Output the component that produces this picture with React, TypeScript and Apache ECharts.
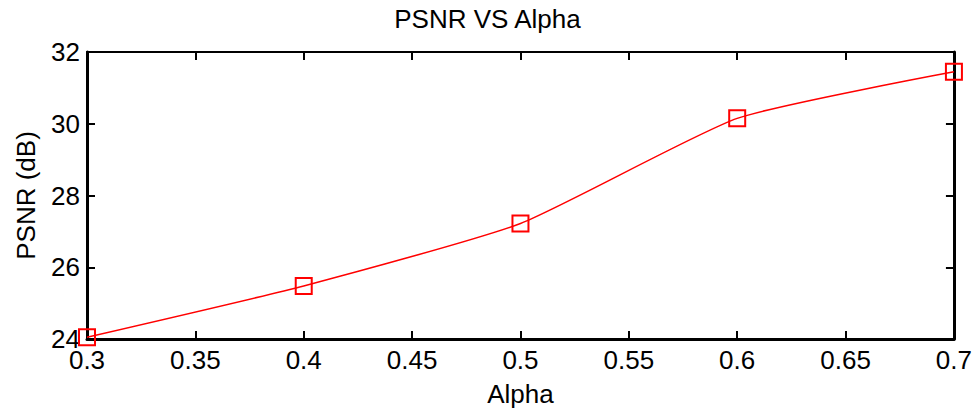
import React, { useEffect, useRef } from "react";
import * as echarts from "echarts";

const alphaValues = [0.3, 0.4, 0.5, 0.6, 0.7];
const psnrValues = [24.05, 25.48, 27.22, 30.15, 31.45];
const titleText = "PSNR VS Alpha";
const xName = "Alpha";
const yName = "PSNR (dB)";

export default function App() {
  const ref = useRef<HTMLDivElement>(null);
  useEffect(() => {
    if (!ref.current) return;
    const chart = echarts.init(ref.current, null, { renderer: "svg" });
    const font = "'Liberation Sans', Arial, sans-serif";
    const axisLine = { show: true, lineStyle: { color: "#000", width: 3 } };
    const axisTick = { show: true, inside: true, length: 8, lineStyle: { color: "#000", width: 2 } };
    const data = alphaValues.map((a, i) => [a, psnrValues[i]]);
    chart.setOption({
      animation: false,
      backgroundColor: "#fff",
      title: {
        text: titleText,
        left: "center",
        top: 1,
        textStyle: { fontFamily: font, fontSize: 26, fontWeight: "normal", color: "#000" },
      },
      grid: { left: 87, right: 18, top: 52, bottom: 72 },
      xAxis: [
        {
          type: "value",
          min: 0.3,
          max: 0.7,
          interval: 0.05,
          position: "bottom",
          name: xName,
          nameLocation: "middle",
          nameGap: 42,
          nameTextStyle: { fontFamily: font, fontSize: 26, color: "#000" },
          axisLine,
          axisTick,
          splitLine: { show: false },
          axisLabel: {
            fontFamily: font,
            fontSize: 26,
            lineHeight: 20,
            color: "#000",
            margin: 11,
            formatter: (v: number) => String(parseFloat(v.toFixed(2))),
          },
        },
        {
          type: "value",
          min: 0.3,
          max: 0.7,
          interval: 0.05,
          position: "top",
          axisLine: { show: true, lineStyle: { color: "#000", width: 2 } },
          axisTick,
          splitLine: { show: false },
          axisLabel: { show: false },
        },
      ],
      yAxis: [
        {
          type: "value",
          min: 24,
          max: 32,
          interval: 2,
          position: "left",
          name: yName,
          nameLocation: "middle",
          nameGap: 48,
          nameRotate: 90,
          nameTextStyle: { fontFamily: font, fontSize: 26, color: "#000" },
          axisLine,
          axisTick,
          splitLine: { show: false },
          axisLabel: { fontFamily: font, fontSize: 26, lineHeight: 20, color: "#000", margin: 7 },
        },
        {
          type: "value",
          min: 24,
          max: 32,
          interval: 2,
          position: "right",
          axisLine,
          axisTick,
          splitLine: { show: false },
          axisLabel: { show: false },
        },
      ],
      series: [
        {
          type: "line",
          data,
          smooth: 0.18,
          symbol: "rect",
          symbolSize: 16,
          showSymbol: true,
          lineStyle: { color: "#ff0000", width: 1.5 },
          itemStyle: { color: "rgba(0,0,0,0)", borderColor: "#ff0000", borderWidth: 2 },
          z: 3,
        },
      ],
    });
    return () => chart.dispose();
  }, []);
  return (
    <div
      ref={ref}
      style={{ position: "fixed", left: 0, top: 0, width: 975, height: 412, background: "#fff" }}
    />
  );
}
